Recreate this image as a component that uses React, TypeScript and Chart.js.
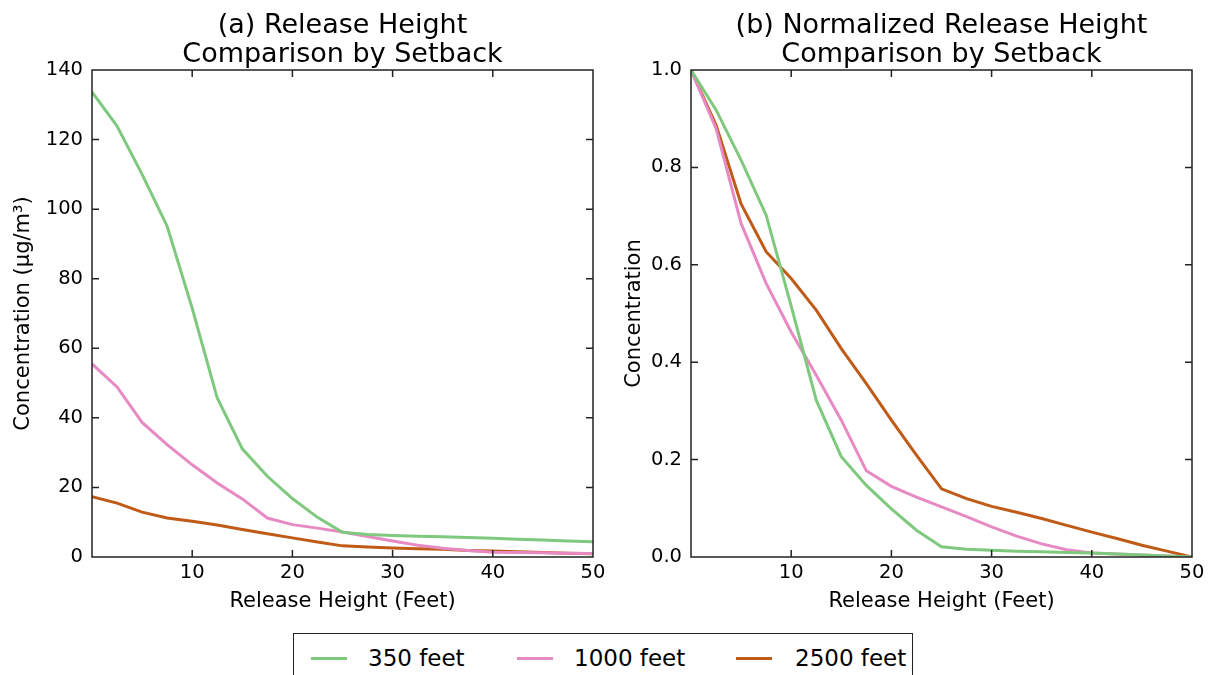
import React, { useEffect, useRef } from "react";
import { Chart, registerables } from "chart.js";

Chart.register(...registerables);

// ---------- data ----------
const releaseHeights = [0, 2.5, 5, 7.5, 10, 12.5, 15, 17.5, 20, 22.5, 25, 27.5, 30, 32.5, 35, 37.5, 40, 42.5, 45, 47.5, 50];

const concentration350 = [133.7, 123.9, 110.0, 95.1, 71.5, 45.7, 31.1, 23.2, 16.8, 11.4, 7.1, 6.5, 6.2, 6.0, 5.8, 5.6, 5.4, 5.1, 4.9, 4.6, 4.4];
const concentration1000 = [55.5, 48.9, 38.7, 32.3, 26.5, 21.3, 16.7, 11.2, 9.3, 8.3, 7.2, 5.9, 4.6, 3.4, 2.5, 1.9, 1.4, 1.3, 1.2, 1.1, 1.0];
const concentration2500 = [17.3, 15.5, 12.9, 11.2, 10.3, 9.2, 7.9, 6.7, 5.5, 4.3, 3.2, 2.9, 2.6, 2.4, 2.2, 1.9, 1.7, 1.5, 1.3, 1.1, 0.9];

const normalized350 = [1.0, 0.918, 0.815, 0.702, 0.515, 0.322, 0.206, 0.147, 0.099, 0.055, 0.021, 0.016, 0.014, 0.012, 0.011, 0.009, 0.008, 0.006, 0.004, 0.002, 0.0];
const normalized1000 = [1.0, 0.88, 0.685, 0.562, 0.462, 0.373, 0.281, 0.177, 0.145, 0.123, 0.103, 0.083, 0.062, 0.043, 0.027, 0.015, 0.008, 0.006, 0.004, 0.002, 0.0];
const normalized2500 = [1.0, 0.887, 0.725, 0.627, 0.572, 0.507, 0.428, 0.356, 0.281, 0.209, 0.14, 0.12, 0.104, 0.092, 0.079, 0.065, 0.051, 0.038, 0.024, 0.012, 0.0];

const seriesLabels = ["350 feet", "1000 feet", "2500 feet"];
const seriesColors = ["#7fc97f", "#e78ac3", "#bf5b17"];

const titleA = ["(a) Release Height", "Comparison by Setback"];
const titleB = ["(b) Normalized Release Height", "Comparison by Setback"];
const xAxisTitle = "Release Height (Feet)";
const yAxisTitleA = "Concentration (μg/m³)";
const yAxisTitleB = "Concentration";

const FONT = "'DejaVu Sans', sans-serif";

// ---------- frame + inward ticks plugin ----------
const frameTicks = {
  id: "frameTicks",
  afterDraw(chart: any) {
    const { ctx, chartArea } = chart;
    const { left, right, top, bottom } = chartArea;
    const xs = chart.scales.x;
    const ys = chart.scales.y;
    const L = 7;
    ctx.save();
    ctx.strokeStyle = "#222";
    ctx.lineWidth = 1.5;
    ctx.beginPath();
    xs.ticks.forEach((t: any) => {
      const px = xs.getPixelForValue(t.value);
      if (px <= left + 1 || px >= right - 1) return;
      ctx.moveTo(px, bottom);
      ctx.lineTo(px, bottom - L);
      ctx.moveTo(px, top);
      ctx.lineTo(px, top + L);
    });
    ys.ticks.forEach((t: any) => {
      const py = ys.getPixelForValue(t.value);
      if (py <= top + 1 || py >= bottom - 1) return;
      ctx.moveTo(left, py);
      ctx.lineTo(left + L, py);
      ctx.moveTo(right, py);
      ctx.lineTo(right - L, py);
    });
    ctx.stroke();
    ctx.strokeRect(left, top, right - left, bottom - top);
    ctx.restore();
  },
};

function makeConfig(opts: {
  title: string[];
  yTitle: string;
  series: number[][];
  yMax: number;
  yStep: number;
  yWidth: number;
  yTitlePad: number;
  padRight: number;
  decimals: number;
}): any {
  const datasets = opts.series.map((vals, i) => ({
    label: seriesLabels[i],
    data: releaseHeights.map((h, j) => ({ x: h, y: vals[j] })),
    borderColor: seriesColors[i],
    backgroundColor: seriesColors[i],
    borderWidth: 3,
    pointRadius: 0,
    tension: 0,
    fill: false,
  }));
  return {
    type: "line",
    data: { datasets },
    options: {
      responsive: false,
      animation: false,
      devicePixelRatio: 1,
      layout: { padding: { left: 0, right: opts.padRight, top: 0, bottom: 0 } },
      plugins: {
        legend: { display: false },
        tooltip: { enabled: false },
        title: {
          display: true,
          text: opts.title,
          fullSize: false,
          color: "#000",
          font: { family: FONT, size: 27, weight: "normal", lineHeight: 1.08 },
          padding: { top: 11.5, bottom: 0.2 },
        },
      },
      scales: {
        x: {
          type: "linear",
          min: 0,
          max: 50,
          grid: { display: false, drawTicks: false, tickLength: 0 },
          border: { display: false },
          ticks: {
            stepSize: 10,
            color: "#000",
            padding: 4,
            font: { family: FONT, size: 19.5 },
            callback: (v: number) => (v === 0 ? "" : String(v)),
          },
          title: {
            display: true,
            text: xAxisTitle,
            color: "#000",
            font: { family: FONT, size: 21 },
            padding: { top: 0, bottom: 5.5 },
          },
          afterFit: (s: any) => {
            s.height = 63;
            s.paddingLeft = 0;
            s.paddingRight = 0;
          },
        },
        y: {
          type: "linear",
          min: 0,
          max: opts.yMax,
          grid: { display: false, drawTicks: false, tickLength: 0 },
          border: { display: false },
          ticks: {
            stepSize: opts.yStep,
            color: "#000",
            padding: 9,
            font: { family: FONT, size: 19.5 },
            callback: (v: number) => Number(v).toFixed(opts.decimals),
          },
          title: {
            display: true,
            text: opts.yTitle,
            color: "#000",
            font: { family: FONT, size: 21 },
            padding: { top: opts.yTitlePad, bottom: 0 },
          },
          afterFit: (s: any) => {
            s.width = opts.yWidth;
            s.paddingTop = 0;
            s.paddingBottom = 0;
          },
        },
      },
    },
    plugins: [frameTicks],
  };
}

function ChartCanvas(props: { config: any; left: number; width: number; height: number }) {
  const ref = useRef<HTMLCanvasElement | null>(null);
  useEffect(() => {
    if (!ref.current) return;
    const chart = new Chart(ref.current, props.config);
    return () => chart.destroy();
  }, []);
  return (
    <canvas
      ref={ref}
      width={props.width}
      height={props.height}
      style={{ position: "absolute", left: props.left, top: 0, width: props.width, height: props.height }}
    />
  );
}

export default function App() {
  const configA = makeConfig({
    title: titleA,
    yTitle: yAxisTitleA,
    series: [concentration350, concentration1000, concentration2500],
    yMax: 140,
    yStep: 20,
    yWidth: 92,
    yTitlePad: 11.4,
    padRight: 32,
    decimals: 0,
  });
  const configB = makeConfig({
    title: titleB,
    yTitle: yAxisTitleB,
    series: [normalized350, normalized1000, normalized2500],
    yMax: 1,
    yStep: 0.2,
    yWidth: 91,
    yTitlePad: 22.4,
    padRight: 17,
    decimals: 1,
  });

  const legendItems = [
    { swatch: 17, text: 74 },
    { swatch: 223, text: 280 },
    { swatch: 442, text: 501 },
  ];

  return (
    <div style={{ position: "absolute", left: 0, top: 0, width: 1209, height: 675, background: "#fff", overflow: "hidden", fontFamily: FONT }}>
      <ChartCanvas config={configA} left={0} width={625} height={620} />
      <ChartCanvas config={configB} left={600} width={609} height={620} />
      <div
        style={{
          position: "absolute",
          left: 293,
          top: 633,
          width: 620,
          height: 60,
          border: "1.5px solid #222",
          boxSizing: "border-box",
          background: "#fff",
        }}
      >
        {seriesLabels.map((lab, i) => (
          <React.Fragment key={lab}>
            <div
              style={{
                position: "absolute",
                left: legendItems[i].swatch,
                top: 22.5,
                width: 36,
                height: 3,
                background: seriesColors[i],
              }}
            />
            <div
              style={{
                position: "absolute",
                left: legendItems[i].text,
                top: 11,
                fontSize: 23,
                lineHeight: "26px",
                color: "#000",
                whiteSpace: "nowrap",
              }}
            >
              {lab}
            </div>
          </React.Fragment>
        ))}
      </div>
    </div>
  );
}
